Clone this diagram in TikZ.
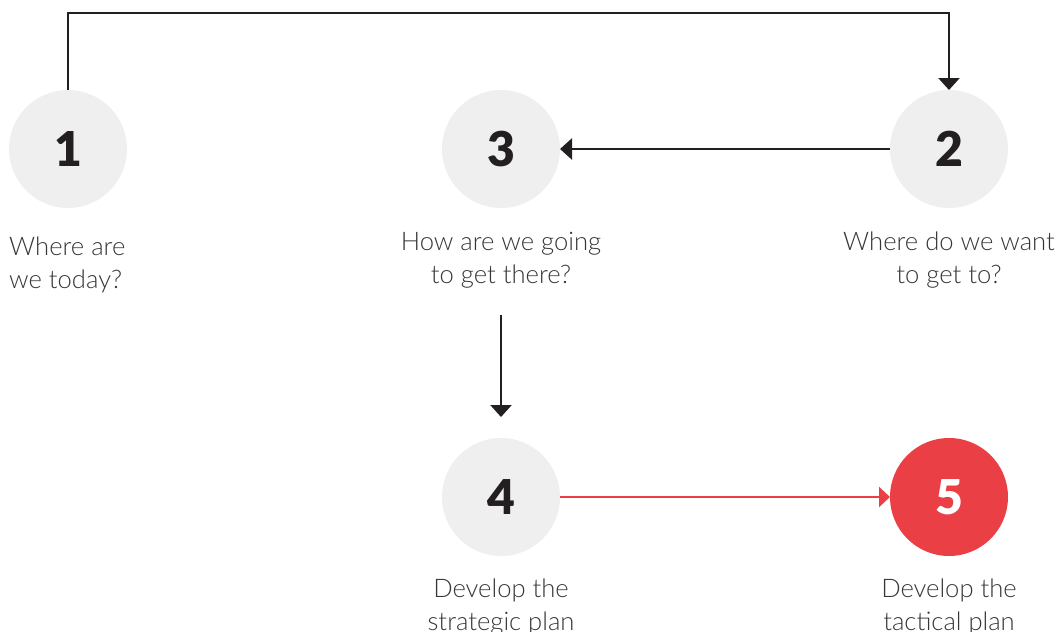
\documentclass[tikz,border=0pt]{standalone}
\usepackage{fontspec}
\setmainfont{Lato}[UprightFont=* Light, BoldFont=* Black]
\usetikzlibrary{arrows.meta, positioning}
\definecolor{disco}{HTML}{EFEFEF}
\definecolor{rojo}{HTML}{EA4045}
\definecolor{tinta}{HTML}{231F20}

\begin{document}
\begin{tikzpicture}[x=1pt, y=-1pt,
      c/.style={circle, fill=disco, minimum size=118pt, inner sep=0pt, outer sep=0pt, text=tinta,
        font=\fontsize{48}{48}\selectfont\bfseries},
      t/.style={align=center, inner sep=0pt, text=tinta!90, font=\fontsize{25.6}{33}\selectfont},
      a/.style={-{Triangle[width=21pt, length=12pt]}, line width=2.5pt, draw=tinta}]
    \useasboundingbox (0,0) rectangle (1061,632);
    \node[c] (c1) at (68,149) {1};
    \node[c] (c3) at (501,149) {3};
    \node[c] (c2) at (949,149) {2};
    \node[c] (c4) at (501,497) {4};
    \node[c, fill=rojo, text=white] (c5) at (949,497) {5};
    \node[t, align=left, anchor=base west] (t1) at (9,288) {Where are\\we today?};
    \node[t, anchor=base] (t3) at (501,283) {How are we going\\to get there?};
    \node[t, anchor=base] (t2) at (949,283) {Where do we want\\to get to?};
    \node[t, anchor=base] (t4) at (501,630) {Develop the\\strategic plan};
    \node[t, anchor=base] (t5) at (949,630) {Develop the\\tactical plan};
    \draw[a] (c1.north) -- ++(0,-77) -| (c2.north);
    \draw[a] (c2) -- (c3);
    \draw[a] ([yshift=-27pt]t3.south) -- ([yshift=21pt]c4.north);
    \draw[-{Triangle[width=20pt, length=11pt]}, line width=2pt, draw=rojo, fill=rojo] (c4) -- (c5);
  \end{tikzpicture}
\end{document}
